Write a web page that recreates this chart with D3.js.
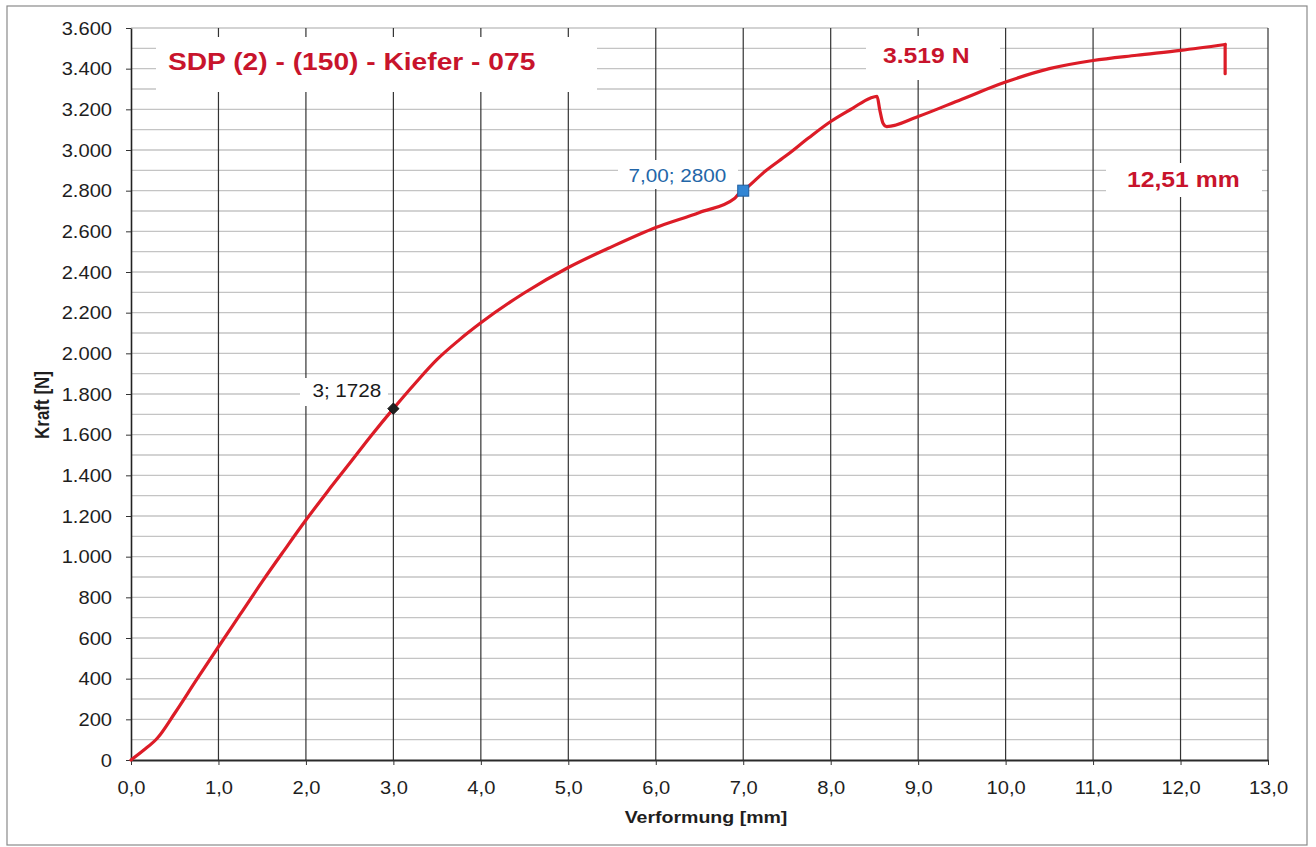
<!DOCTYPE html>
<html>
<head>
<meta charset="utf-8">
<script src="https://cdn.jsdelivr.net/npm/d3@7"></script>
<style>
  html, body { margin: 0; padding: 0; background: #ffffff; }
  svg { display: block; }
  text { font-family: "Liberation Sans", Arial, sans-serif; }
</style>
</head>
<body>
<svg id="chart" width="1316" height="847"></svg>
<script>
// Load–deformation curve of specimen SDP (2) - (150) - Kiefer - 075
const deformation = [0, 0.15, 0.30, 0.50, 0.75, 1.00, 1.25, 1.50, 1.75, 2.00, 2.25, 2.50, 2.75, 3.00,
  3.25, 3.50, 3.75, 4.00, 4.50, 5.00, 5.50, 6.00, 6.50, 6.90, 6.95, 7.00, 7.25, 7.50, 7.75, 8.00,
  8.25, 8.45, 8.53, 8.56, 8.60, 8.64, 9.00, 9.50, 10.00, 10.50, 11.00, 11.50, 12.00, 12.51, 12.51];
const force = [0, 50, 107, 230, 395, 557, 717, 877, 1030, 1180, 1322, 1459, 1597, 1728,
  1853, 1970, 2065, 2150, 2298, 2422, 2525, 2619, 2693, 2762, 2785, 2800, 2895, 2975, 3060, 3140,
  3205, 3255, 3264, 3200, 3130, 3115, 3165, 3250, 3334, 3400, 3440, 3466, 3490, 3519, 3375];

// Marked points on the curve
const markA = { x: 3, y: 1728, label: "3; 1728" };
const markB = { x: 7.00, y: 2800, label: "7,00; 2800" };

// Result annotations
const title = "SDP (2) - (150) - Kiefer - 075";
const maxForceLabel = "3.519 N";
const maxDeformLabel = "12,51 mm";

// Axis ticks
const xTicks = [0, 1, 2, 3, 4, 5, 6, 7, 8, 9, 10, 11, 12, 13];
const yTicks = [0, 200, 400, 600, 800, 1000, 1200, 1400, 1600, 1800, 2000, 2200, 2400, 2600, 2800, 3000, 3200, 3400, 3600];
const yGrid = d3.range(100, 3601, 100);

const data = deformation.map((d, i) => ({ x: d, y: force[i] }));
const loading = data.slice(0, -1);   // up to the maximum load
const failure = data.slice(-2);      // sudden drop after the maximum

const de = d3.formatLocale({ decimal: ",", thousands: ".", grouping: [3], currency: ["", " €"] });
const fmtY = de.format(",.0f");
const fmtX = de.format(".1f");

const S = 1.15; // horizontal text stretch
const RED_TEXT = "#c8142c";
const RED_LINE = "#dc1c27";

const svg = d3.select("#chart");
const x = d3.scaleLinear().domain([0, 13]).range([131, 1268]);
const y = d3.scaleLinear().domain([0, 3600]).range([760, 28]);

// outer frame
svg.append("rect").attr("x", 7).attr("y", 6).attr("width", 1300).attr("height", 839)
  .attr("fill", "#fff").attr("stroke", "#8a8a8a").attr("stroke-width", 1.2);

// horizontal grid (every 100 N)
svg.append("g").selectAll("line").data(yGrid).join("line")
  .attr("x1", x(0)).attr("x2", x(13))
  .attr("y1", d => y(d)).attr("y2", d => y(d))
  .attr("stroke", "#c4c4c4").attr("stroke-width", 1.3);

// vertical grid (every mm)
svg.append("g").selectAll("line").data(xTicks.filter(d => d > 0)).join("line")
  .attr("x1", d => x(d)).attr("x2", d => x(d))
  .attr("y1", y(3600)).attr("y2", y(0))
  .attr("stroke", "#333").attr("stroke-width", 1.2);

// axes
const gy = svg.append("g").attr("transform", `translate(${x(0)},0)`)
  .call(d3.axisLeft(y).tickValues(yTicks).tickFormat(fmtY).tickSize(5).tickSizeOuter(0));
gy.select(".domain").attr("stroke", "#222").attr("stroke-width", 1.6);
gy.selectAll(".tick line").attr("stroke", "#333");
gy.selectAll(".tick text")
  .attr("x", -19 / S).attr("dy", "0.36em")
  .attr("transform", `scale(${S},1)`)
  .attr("font-size", 17.5).attr("fill", "#1e1e1e");

const gx = svg.append("g").attr("transform", `translate(0,${y(0)})`)
  .call(d3.axisBottom(x).tickValues(xTicks).tickFormat(fmtX).tickSize(5).tickSizeOuter(0));
gx.select(".domain").attr("stroke", "#2a2a2a").attr("stroke-width", 2.2);
gx.selectAll(".tick line").attr("stroke", "#333");
gx.selectAll(".tick text")
  .attr("y", 34).attr("dy", null)
  .attr("transform", `scale(${S},1)`)
  .attr("font-size", 17.5).attr("fill", "#1e1e1e");

// axis titles
svg.append("text").attr("transform", `translate(706,823) scale(${S},1)`)
  .attr("text-anchor", "middle").attr("font-size", 17).attr("font-weight", "bold")
  .attr("fill", "#1e1e1e").text("Verformung [mm]");
svg.append("text").attr("transform", `translate(49,405) scale(${S},1) rotate(-90)`)
  .attr("text-anchor", "middle").attr("font-size", 17).attr("font-weight", "bold")
  .attr("fill", "#1e1e1e").text("Kraft [N]");

// white label backgrounds
const boxes = [
  [156, 37, 441, 55],   // title
  [866, 36, 134, 44],   // max force
  [1106, 163, 156, 34], // deformation
  [618, 160, 120, 29],  // label B
  [300, 378, 88, 28]    // label A
];
svg.append("g").selectAll("rect").data(boxes).join("rect")
  .attr("x", d => d[0]).attr("y", d => d[1]).attr("width", d => d[2]).attr("height", d => d[3])
  .attr("fill", "#fff");

// curve: smooth loading branch plus the straight failure drop
const curveStyle = sel => sel.attr("fill", "none").attr("stroke", RED_LINE).attr("stroke-width", 3.2)
  .attr("stroke-linejoin", "round").attr("stroke-linecap", "round");
svg.append("path").datum(loading)
  .attr("d", d3.line().x(d => x(d.x)).y(d => y(d.y)).curve(d3.curveMonotoneX))
  .call(curveStyle);
svg.append("path").datum(failure)
  .attr("d", d3.line().x(d => x(d.x)).y(d => y(d.y)))
  .call(curveStyle);

// markers
svg.append("path")
  .attr("d", d3.symbol(d3.symbolDiamond2, 80)())
  .attr("transform", `translate(${x(markA.x)},${y(markA.y)})`)
  .attr("fill", "#1f1f1f").attr("stroke", "#111").attr("stroke-width", 1);
svg.append("rect")
  .attr("x", x(markB.x) - 5.5).attr("y", y(markB.y) - 5.5).attr("width", 11).attr("height", 11)
  .attr("fill", "#3386d4").attr("stroke", "#1f5fa0").attr("stroke-width", 1);

// marker labels
svg.append("text").attr("transform", `translate(${x(markA.x) - 12},${y(markA.y) - 12}) scale(${S},1)`)
  .attr("text-anchor", "end").attr("font-size", 18).attr("fill", "#1a1a1a").text(markA.label);
svg.append("text").attr("transform", `translate(${x(markB.x) - 17},${y(markB.y) - 9}) scale(${S},1)`)
  .attr("text-anchor", "end").attr("font-size", 18).attr("fill", "#2366a8").text(markB.label);

// annotations
svg.append("text").attr("transform", `translate(168,70) scale(${S},1)`)
  .attr("font-size", 24.5).attr("font-weight", "bold").attr("fill", RED_TEXT).text(title);
svg.append("text").attr("transform", `translate(883,63) scale(${S},1)`)
  .attr("font-size", 21.5).attr("font-weight", "bold").attr("fill", RED_TEXT).text(maxForceLabel);
svg.append("text").attr("transform", `translate(1127,187) scale(${S},1)`)
  .attr("font-size", 21.5).attr("font-weight", "bold").attr("fill", RED_TEXT).text(maxDeformLabel);
</script>
</body>
</html>
